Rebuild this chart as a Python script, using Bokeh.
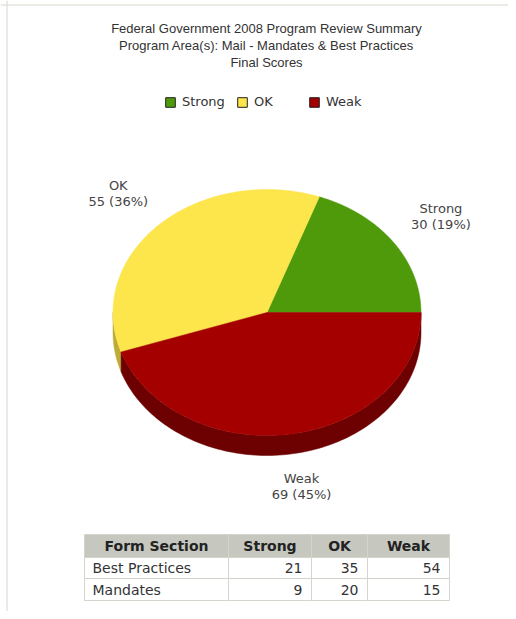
import numpy as np
from bokeh.plotting import figure
from bokeh.models import Range1d, ColumnDataSource, Legend, LegendItem, Span
from bokeh.core.properties import value
from bokeh.embed import file_html
from bokeh.resources import INLINE

# ---------------- data ----------------
title_lines = ["Federal Government 2008 Program Review Summary",
               "Program Area(s): Mail - Mandates & Best Practices",
               "Final Scores"]
categories = ["Strong", "OK", "Weak"]
table_header = ["Form Section", "Strong", "OK", "Weak"]
table_sections = ["Best Practices", "Mandates"]
best_practices = [21, 35, 54]
mandates = [9, 20, 15]

# ---------------- styles ----------------
colors = ["#4e9a0b", "#fde54c", "#a40000"]
side_colors = ["#356b05", "#bfac38", "#6d0000"]
FONT = "DejaVu Sans"

totals = [b + m for b, m in zip(best_practices, mandates)]
grand = sum(totals)

W, H = 508, 611
p = figure(width=W, height=H, x_range=Range1d(0, W), y_range=Range1d(H, 0),
           output_backend="svg", toolbar_location=None, min_border=0,
           x_axis_type=None, y_axis_type=None)
p.outline_line_color = None
p.background_fill_color = "white"
p.border_fill_color = "white"

# frame lines
p.add_layout(Span(location=4.5, dimension="width", line_color="#d8d8cc", line_width=1))
p.add_layout(Span(location=6.5, dimension="height", line_color="#d8d8cc", line_width=1))

# ---------------- title ----------------
p.text(x=[266] * 3, y=[28 + 17 * i for i in range(3)], text=title_lines,
       text_font=value("Liberation Sans"), text_font_size="13px",
       text_align="center", text_baseline="middle", text_color="#333333")

# ---------------- pie ----------------
cx, cy, a, b, depth = 266.5, 312.0, 154.0, 123.0, 20.0
frac = np.array(totals, dtype=float) / grand
ends = np.cumsum(frac) * 2 * np.pi
starts = ends - frac * 2 * np.pi

side_xs, side_ys, side_c = [], [], []
for s, e, c in zip(starts, ends, side_colors):
    lo, hi = max(s, np.pi), min(e, 2 * np.pi)
    if lo < hi:
        t = np.linspace(lo, hi, 120)
        xt = cx + a * np.cos(t)
        yt = cy - b * np.sin(t)
        side_xs.append(np.concatenate([xt, xt[::-1]]))
        side_ys.append(np.concatenate([yt, (yt + depth)[::-1]]))
        side_c.append(c)
p.patches(xs=side_xs, ys=side_ys, fill_color=side_c, line_color=side_c, line_width=0.5)

top_xs, top_ys = [], []
for s, e in zip(starts, ends):
    t = np.linspace(s, e, 200)
    top_xs.append(np.concatenate([[cx], cx + a * np.cos(t)]))
    top_ys.append(np.concatenate([[cy], cy - b * np.sin(t)]))
p.patches(xs=top_xs, ys=top_ys, fill_color=colors, line_color=colors, line_width=0.5)

# slice labels
mids = (starts + ends) / 2
lx = cx + 1.38 * a * np.cos(mids)
ly = cy - 1.36 * b * np.sin(mids) + np.where(np.sin(mids) < 0, 0.45 * depth, 0)
pct = [f"{v} ({round(100 * v / grand)}%)" for v in totals]
p.text(x=lx, y=ly - 8, text=categories, text_font=value(FONT), text_font_size="13px",
       text_align="center", text_baseline="middle", text_color="#444444")
p.text(x=lx, y=ly + 8, text=pct, text_font=value(FONT), text_font_size="13px",
       text_align="center", text_baseline="middle", text_color="#444444")

# ---------------- legend ----------------
nan = [np.nan] * 3
leg_src = ColumnDataSource(dict(l=nan, r=nan, t=nan, b=nan, color=colors))
r_leg = p.quad(left="l", right="r", top="t", bottom="b", fill_color="color",
               line_color="#222222", line_width=1, source=leg_src)
legend = Legend(items=[LegendItem(label=c, renderers=[r_leg], index=i)
                       for i, c in enumerate(categories)],
                orientation="horizontal", location=(164, H - 109),
                border_line_color=None, background_fill_alpha=0,
                padding=0, margin=0, spacing=4,
                glyph_width=12, glyph_height=12, label_standoff=6,
                label_width=50, label_height=12,
                label_text_font=FONT, label_text_font_size="13px",
                label_text_color="#333333")
p.add_layout(legend, "center")

# ---------------- table ----------------
col_edges = [84, 228, 311, 367, 449]
row_edges = [534, 557, 578, 600]
cl, cr, ct, cb, cf = [], [], [], [], []
for ri in range(3):
    for ci in range(4):
        cl.append(col_edges[ci]); cr.append(col_edges[ci + 1])
        ct.append(row_edges[ri]); cb.append(row_edges[ri + 1])
        cf.append("#c6c8bf" if ri == 0 else "white")
p.quad(left=cl, right=cr, top=ct, bottom=cb, fill_color=cf,
       line_color="#d4d4cc", line_width=1)

hx = [(col_edges[i] + col_edges[i + 1]) / 2 for i in range(4)]
hy = (row_edges[0] + row_edges[1]) / 2
p.text(x=hx, y=[hy] * 4, text=table_header, text_font=value(FONT),
       text_font_size="14px", text_font_style="bold", text_align="center",
       text_baseline="middle", text_color="#222222")

rows = [best_practices, mandates]
for ri, (name, vals) in enumerate(zip(table_sections, rows)):
    yy = (row_edges[ri + 1] + row_edges[ri + 2]) / 2
    p.text(x=[col_edges[0] + 8], y=[yy], text=[name], text_font=value(FONT),
           text_font_size="14px", text_align="left", text_baseline="middle",
           text_color="#333333")
    p.text(x=[col_edges[i + 1] - 9 for i in range(1, 4)], y=[yy] * 3,
           text=[str(v) for v in vals], text_font=value(FONT),
           text_font_size="14px", text_align="right", text_baseline="middle",
           text_color="#333333")

open("out.html", "w").write(file_html(p, INLINE))
